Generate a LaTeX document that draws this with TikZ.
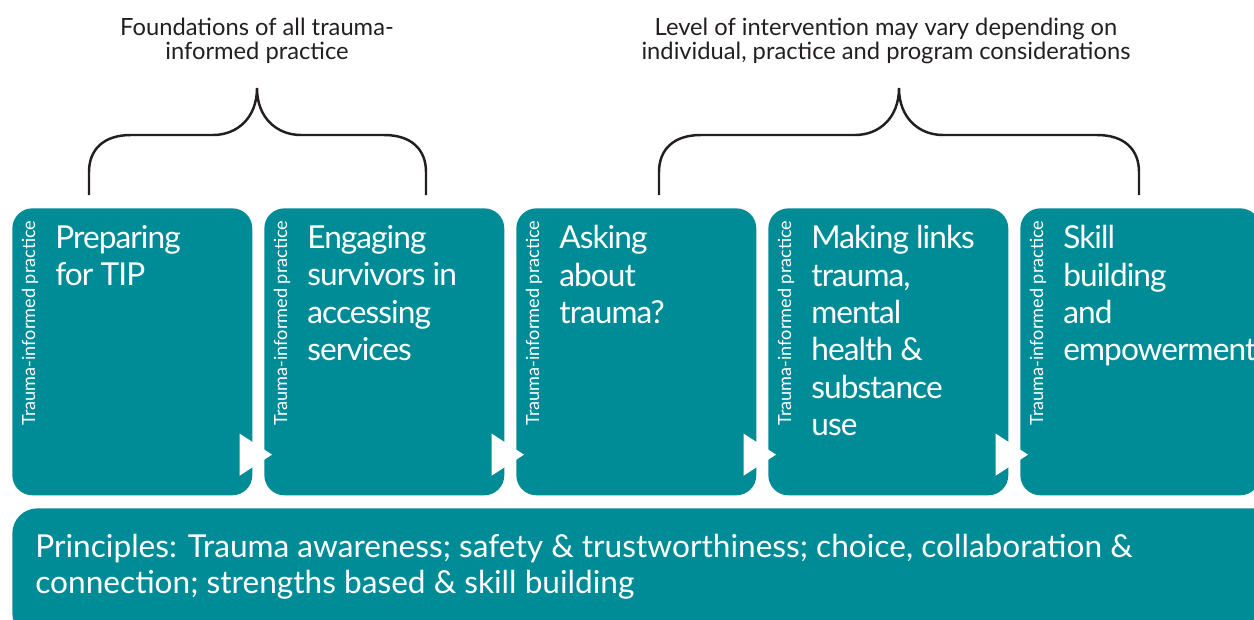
\documentclass[tikz,border=0pt]{standalone}
\usepackage{fontspec}
\setmainfont{Lato}
\newfontfamily\stagefont[LetterSpace=-3]{Lato}
\usetikzlibrary{positioning}

\definecolor{tipteal}{HTML}{008C97}
\definecolor{braceink}{HTML}{231F20}

\tikzset{
  stage/.style={fill=tipteal, rounded corners=0.4cm, minimum width=4.8cm,
    minimum height=5.74cm, inner sep=0pt, anchor=north west},
  stagetext/.style={text=white, font=\stagefont\fontsize{18}{21.3}\selectfont,
    align=left, anchor=north west, inner sep=0pt},
  sidelabel/.style={text=white, font=\fontsize{10.3}{12}\selectfont,
    rotate=90, anchor=west, inner sep=0pt},
  heading/.style={text=braceink, font=\fontsize{13.5}{13.7}\selectfont,
    align=center, inner sep=0pt},
  groupbrace/.style={draw=braceink, line width=1.4pt},
  steparrow/.style={fill=white},
}

\newcommand{\curlybrace}[3]{%
  \draw[groupbrace] (#1,195) -- (#1,172)
    .. controls (#1,150) and ({#1+14},135) .. ({#1+42},135) -- ({#2-44},135)
    .. controls ({#2-20},135) and (#2,118) .. (#2,88)
    .. controls (#2,118) and ({#2+20},135) .. ({#2+44},135) -- ({#3-42},135)
    .. controls ({#3-14},135) and (#3,150) .. (#3,172) -- (#3,195);}

\begin{document}
\begin{tikzpicture}[x=0.02cm, y=-0.02cm]

    \useasboundingbox (0,0) rectangle (1254,619);
    \clip (0,0) rectangle (1254,619);

    \foreach \i/\txt in
    {1/{Preparing\\for TIP},
     2/{Engaging\\survivors in\\accessing\\services},
     3/{Asking\\about\\trauma?},
     4/{Making links\\trauma,\\mental\\health \&\\substance\\use},
     5/{Skill\\building\\and\\empowerment}}
    {
      \node[stage] (s\i) at ({12+252*(\i-1)},208) {};
      \node[stagetext] (t\i) at ([shift={(43,17)}]s\i.north west) {\txt};
      \node[sidelabel] (l\i) at ([shift={(18,-70)}]s\i.south west) {Trauma-informed practice};
    }

    \foreach \i [evaluate=\i as \j using int(\i+1)] in {1,...,4}
    {
      \fill[steparrow] ([shift={(-13,-62)}]s\i.south east) --
        ([shift={(-13,-20)}]s\i.south east) --
        ([shift={(8,-41)}]s\j.south west) -- cycle;
    }

    \node[stage, minimum width=25.4cm, minimum height=2.6cm,
      rounded corners=0.5cm] (base) at (12,508) {};
    \node[stagetext, font=\fontsize{18}{20.5}\selectfont] (basetext)
      at ([shift={(23,26)}]base.north west)
      {Principles: Trauma awareness; safety \& trustworthiness; choice, collaboration \&\\
       connection; strengths based \& skill building};

    \node[heading] (h1) at (257,41) {Foundations of all trauma-\\informed practice};
    \node[heading] (h2) at (886,41) {Level of intervention may vary depending on\\
      individual, practice and program considerations};

    \curlybrace{89}{257}{426}
    \curlybrace{659}{899}{1139}

\end{tikzpicture}
\end{document}
